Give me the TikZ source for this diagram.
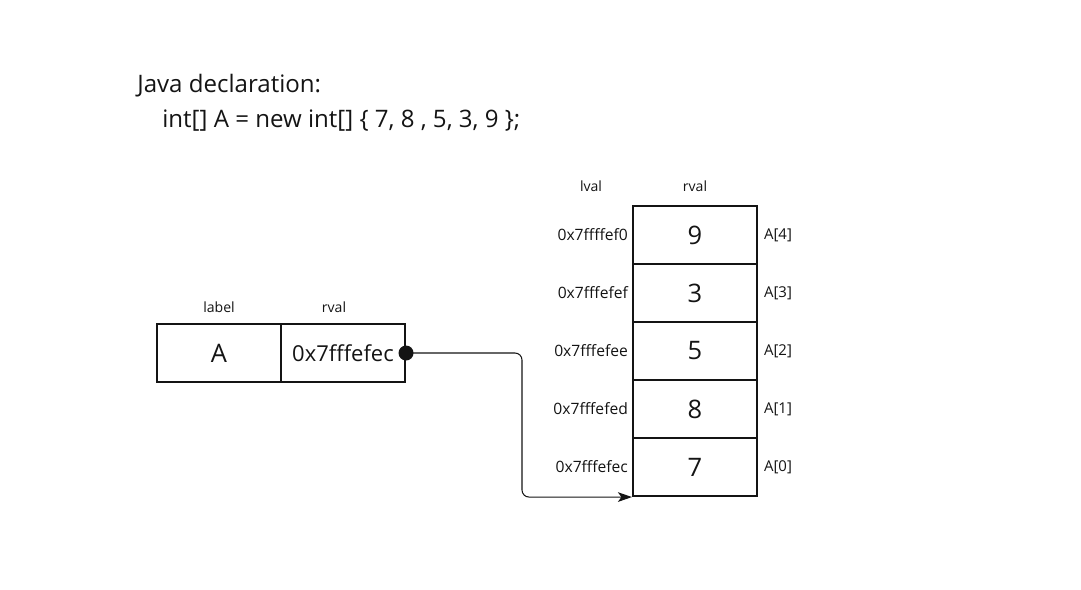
\documentclass[tikz,border=0pt]{standalone}
\usepackage{fontspec}
\setmainfont{Open Sans}
\usepackage{xcolor}
\usetikzlibrary{arrows.meta, positioning}
\definecolor{memInk}{RGB}{20,20,20}

\begin{document}
\begin{tikzpicture}[x=0.02cm, y=-0.02cm,
      cell/.style={draw=memInk, line width=1.2pt, minimum width=2.48cm, minimum height=1.16cm, inner sep=0pt, font=\fontsize{14.5}{17}\selectfont, text=memInk},
      tag/.style={font=\fontsize{8}{10}\selectfont, text=memInk},
      addr/.style={font=\fontsize{8.9}{11}\selectfont, text=memInk, anchor=east, inner sep=1pt},
      idx/.style={font=\fontsize{8.5}{10}\selectfont, text=memInk, anchor=west, inner sep=1pt}
    ]
    \useasboundingbox (0,0) rectangle (1081,589);

    % declaration
    \node[anchor=west, inner sep=0pt, font=\fontsize{13.7}{16}\selectfont, text=memInk] (decl) at (137,86) {Java declaration:};
    \node[anchor=west, inner sep=0pt, font=\fontsize{13.7}{16}\selectfont, text=memInk] (code) at (162,121) {int[] A = new int[] \{ 7, 8 , 5, 3, 9 \};};

    % variable A
    \node[cell] (varA) at (219,353) {A};
    \node[cell, right=-1.2pt of varA, font=\fontsize{12.5}{15}\selectfont] (varRval) {0x7fffefec};
    \node[tag] (labelTag) at (219,307) {label};
    \node[tag] (rvalTagA) at (334,307) {rval};

    % array cells
    \foreach \i/\v/\a/\y in {4/9/0x7ffffef0/235, 3/3/0x7fffefef/293, 2/5/0x7fffefee/351, 1/8/0x7fffefed/409, 0/7/0x7fffefec/467} {
      \node[cell] (arr\i) at (695,\y) {\v};
      \node[addr] (addr\i) at (630,\y) {\a};
      \node[idx] (idx\i) at (762,\y) {A[\i]};
    }
    \node[tag] (lvalTag) at (591,186) {lval};
    \node[tag] (rvalTagArr) at (695,186) {rval};

    % pointer
    \fill[memInk] (varRval.east) circle (7.5);
    \coordinate (bend) at (522,0);
    \draw[memInk, line width=0.6pt, rounded corners=4pt, -{Stealth[length=8pt, width=5.5pt, inset=2pt]}]
      (varRval.east) -- (bend |- varRval.east) -- (bend |- arr0.south west) -- (arr0.south west);
  \end{tikzpicture}
\end{document}
